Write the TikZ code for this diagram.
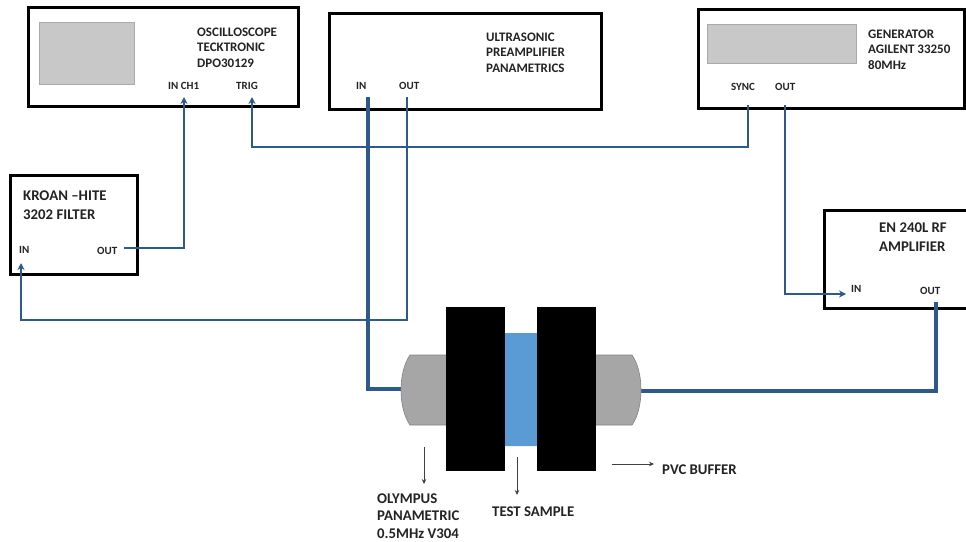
\documentclass[tikz,border=0pt]{standalone}
\usepackage{fontspec}
\setmainfont{Carlito}
\usetikzlibrary{arrows.meta,shadows}
\definecolor{wire}{RGB}{44,90,138}
\definecolor{screen}{RGB}{200,200,200}
\definecolor{screenedge}{RGB}{170,170,170}
\definecolor{buffer}{RGB}{166,166,166}
\definecolor{bufferedge}{RGB}{130,130,130}
\definecolor{sample}{RGB}{91,155,213}
\definecolor{ink}{RGB}{35,35,35}
\tikzset{
  device/.style={draw=black, line width=2.6pt, fill=white,
    drop shadow={opacity=0.45, shadow xshift=2pt, shadow yshift=-2pt}},
  scr/.style={fill=screen, draw=screenedge, line width=0.6pt},
  % multi-line labels are placed by the baseline of their last line
  title/.style={anchor=base west, inner sep=0pt, align=left, text=ink,
    font=\fontsize{13}{15.3}\selectfont\bfseries},
  bigtitle/.style={anchor=base west, inner sep=0pt, align=left, text=ink,
    font=\fontsize{14.8}{18.5}\selectfont\bfseries},
  port/.style={anchor=base west, inner sep=0pt, text=ink,
    font=\fontsize{11}{13}\selectfont\bfseries},
  thinwire/.style={draw=wire, line width=1.9pt},
  thickwire/.style={draw=wire, line width=4.4pt},
  sigarrow/.style={-{Stealth[length=7pt,width=7pt]}},
  note/.style={draw=black!75, line width=0.8pt, -{Stealth[length=5pt,width=4.5pt]}},
}
\begin{document}
\begin{tikzpicture}[x=1pt,y=-1pt]
\useasboundingbox (0,0) rectangle (966,541);

% instruments
\node[device, minimum width=270pt, minimum height=99pt, anchor=north west] (osc) at (27,6) {};
\draw[scr] (39,22) rectangle (134,84);
\node[title] (osctxt) at (197,67) {OSCILLOSCOPE\\TECKTRONIC\\DPO30129};
\node[port] (inch1) at (168,89) {IN CH1};
\node[port] (trig) at (236,89) {TRIG};

\node[device, minimum width=272pt, minimum height=96pt, anchor=north west] (pre) at (328,12) {};
\node[title] (pretxt) at (486,72) {ULTRASONIC\\PREAMPLIFIER\\PANAMETRICS};
\node[port] (prein) at (356,89) {IN};
\node[port] (preout) at (399,89) {OUT};

\node[device, minimum width=266pt, minimum height=99pt, anchor=north west] (gen) at (697,8) {};
\draw[scr] (707,24) rectangle (856,63);
\node[title] (gentxt) at (868,69) {GENERATOR\\AGILENT 33250\\80MHz};
\node[port] (sync) at (731,90) {SYNC};
\node[port] (genout) at (775,90) {OUT};

\node[device, minimum width=127pt, minimum height=99pt, anchor=north west] (filt) at (9,174) {};
\node[bigtitle] (filttxt) at (23,219) {KROAN –HITE\\3202 FILTER};
\node[port] (filtin) at (19,253) {IN};
\node[port] (filtout) at (97,254) {OUT};

\node[device, minimum width=152pt, minimum height=98pt, anchor=north west] (amp) at (823,209) {};
\node[bigtitle] (amptxt) at (879,251) {EN 240L RF\\AMPLIFIER};
\node[port] (ampin) at (851,292) {IN};
\node[port] (ampout) at (920,294) {OUT};

% connection points
\coordinate (pA) at (184,97);   % IN CH1
\coordinate (pT) at (252,97);   % TRIG
\coordinate (pPI) at (368,97);  % preamp IN
\coordinate (pPO) at (407,97);  % preamp OUT
\coordinate (pS) at (748,105);  % SYNC
\coordinate (pGO) at (785,105); % generator OUT
\coordinate (pFO) at (124,248); % filter OUT
\coordinate (pFI) at (21,263);  % filter IN
\coordinate (pAI) at (846,294); % amplifier IN
\coordinate (pAO) at (936,302); % amplifier OUT
\coordinate (tL) at (401,389);  % left transducer
\coordinate (tR) at (641,391);  % right transducer

% signal wires
\draw[thinwire, sigarrow] (pFO) -| (pA);
\draw[thinwire, sigarrow] (pS) |- (252,147) -- (pT);
\draw[thinwire, sigarrow] (pPO) |- (21,320) -- (pFI);
\draw[thinwire, sigarrow] (pGO) |- (pAI);
\draw[thickwire] (pPI) |- (tL);
\draw[thickwire] (pAO) |- (tR);

% transducer stack
\draw[fill=buffer, draw=bufferedge, line width=0.6pt] (449,355) -- (410,355)
  .. controls (398,372) and (398,408) .. (410,425) -- (449,425) -- cycle;
\draw[fill=buffer, draw=bufferedge, line width=0.6pt] (594,355) -- (632,355)
  .. controls (644,372) and (644,408) .. (632,425) -- (594,425) -- cycle;
\fill[sample, rounded corners=5pt] (500,333) rectangle (541,446);
\fill[black] (446,307) rectangle (505,471);
\fill[black] (537,307) rectangle (596,471);

% annotations
\coordinate (a1s) at (424,447);
\coordinate (a1e) at (424,484);
\coordinate (a2s) at (517,457);
\coordinate (a2e) at (517,495);
\coordinate (a3s) at (612,464);
\coordinate (a3e) at (654,464);
\draw[note] (a1s) -- (a1e);
\draw[note] (a2s) -- (a2e);
\draw[note] (a3s) -- (a3e);
\node[bigtitle, font=\fontsize{14.8}{17.5}\selectfont\bfseries] (olympus) at (377,538) {OLYMPUS\\PANAMETRIC\\0.5MHz V304};
\node[bigtitle] (testsample) at (492,516) {TEST SAMPLE};
\node[bigtitle] (pvc) at (662,474) {PVC BUFFER};
\end{tikzpicture}
\end{document}
